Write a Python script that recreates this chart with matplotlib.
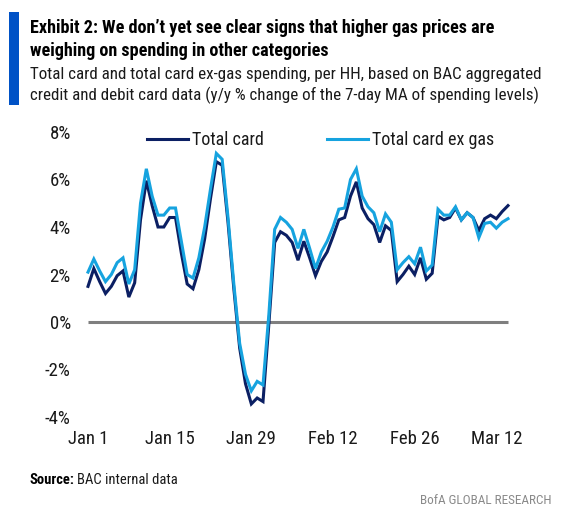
import matplotlib
matplotlib.use("Agg")
import matplotlib.pyplot as plt
from matplotlib import font_manager
from matplotlib.lines import Line2D
from matplotlib.patches import Rectangle
import pandas as pd

# ---------------- data ----------------
start_date = "2022-01-01"
total_card = [1.5, 2.25, 1.7, 1.2, 1.5, 1.95, 2.15, 1.05, 1.65, 4.3,
              5.95, 4.9, 4.0, 4.0, 4.4, 4.4, 2.9, 1.6, 1.4, 2.2,
              3.5, 5.2, 6.75, 6.6, 4.2, 1.4, -1.1, -2.6, -3.45, -3.2,
              -3.35, -0.1, 3.35, 3.8, 3.65, 3.35, 2.6, 3.4, 2.7, 1.95,
              2.55, 2.95, 3.6, 4.3, 4.4, 5.3, 5.9, 4.8, 4.35, 4.1,
              3.35, 4.05, 3.85, 1.7, 2.0, 2.35, 2.0, 2.7, 1.8, 2.05,
              4.45, 4.3, 4.4, 4.8, 4.3, 4.6, 4.4, 3.85, 4.35, 4.5,
              4.35, 4.65, 4.9]
total_ex_gas = [2.1, 2.65, 2.15, 1.7, 2.0, 2.5, 2.7, 1.6, 2.2, 5.0,
                6.45, 5.3, 4.5, 4.5, 4.8, 4.8, 3.4, 2.0, 1.85, 2.7,
                4.0, 5.6, 7.1, 6.85, 4.4, 1.6, -0.9, -2.2, -2.9, -2.5,
                -2.65, 0.3, 3.9, 4.4, 4.2, 3.9, 3.1, 3.9, 3.1, 2.25,
                2.95, 3.4, 4.0, 4.75, 4.8, 6.0, 6.45, 5.3, 4.85, 4.6,
                3.8, 4.55, 4.2, 2.2, 2.5, 2.75, 2.45, 3.15, 2.15, 2.4,
                4.75, 4.5, 4.5, 4.85, 4.3, 4.6, 4.4, 3.55, 4.15, 4.2,
                3.95, 4.2, 4.35]
series_names = ["Total card", "Total card ex gas"]
x_tick_labels = ["Jan 1", "Jan 15", "Jan 29", "Feb 12", "Feb 26", "Mar 12"]
y_ticks = [-4, -2, 0, 2, 4, 6, 8]
y_tick_labels = ["-4%", "-2%", "0%", "2%", "4%", "6%", "8%"]

title_lines = ["Exhibit 2: We don\u2019t yet see clear signs that higher gas prices are",
               "weighing on spending in other categories"]
subtitle_lines = ["Total card and total card ex-gas spending, per HH, based on BAC aggregated",
                  "credit and debit card data (y/y % change of the 7-day MA of spending levels)"]

dates = pd.date_range(start_date, periods=len(total_card), freq="D")
tick_dates = pd.date_range(start_date, periods=len(x_tick_labels), freq="14D")

# ---------------- fonts ----------------
available = {f.name for f in font_manager.fontManager.ttflist}
family = None
for cand in ["Liberation Sans Narrow", "Roboto Condensed", "Open Sans Condensed", "Lato"]:
    if cand in available:
        family = cand
        break
if family is None:
    family = "DejaVu Sans"
plt.rcParams["font.family"] = [family, "DejaVu Sans"]

NAVY = "#0b1f63"
LIGHT = "#16a3df"
BAR = "#0052c6"

W, H = 564, 518
fig = plt.figure(figsize=(W / 100, H / 100), dpi=100)
renderer = fig.canvas.get_renderer()


def fx(px):
    return px / W


def fy(py):
    return 1 - py / H


def fit(t, target_px):
    bb = t.get_window_extent(renderer)
    t.set_fontsize(t.get_fontsize() * target_px / bb.width)


# blue side bar
fig.patches.append(Rectangle((fx(9), fy(104.5)), fx(10), (104.5 - 12.3) / H,
                             transform=fig.transFigure, color=BAR, lw=0))

# title + subtitle
t1 = fig.text(fx(29.5), fy(33.3), title_lines[0], fontsize=14, fontweight="bold",
              color="#000000", va="baseline", ha="left")
fit(t1, 468)
t2 = fig.text(fx(29.5), fy(56.5), title_lines[1], fontsize=t1.get_fontsize(),
              fontweight="bold", color="#000000", va="baseline", ha="left")
s1 = fig.text(fx(29.5), fy(79.3), subtitle_lines[0], fontsize=13,
              color="#1a1a1a", va="baseline", ha="left")
fit(s1, 512)
s2 = fig.text(fx(29.5), fy(100.5), subtitle_lines[1], fontsize=s1.get_fontsize(),
              color="#1a1a1a", va="baseline", ha="left")

# ---------------- axes ----------------
px_per_day = (508 - 88) / (len(dates) - 1)
pad_days = 2
ax_left = 88 - pad_days * px_per_day
ax_width = (len(dates) - 1 + 2 * pad_days) * px_per_day
ax = fig.add_axes([fx(ax_left), fy(417), fx(ax_width), (417 - 132) / H])

ax.hlines(0, dates[0], dates[-1], color="#7f7f7f", lw=2.2, zorder=1)
ax.plot(dates, total_card, color=NAVY, lw=2.2, zorder=3, solid_joinstyle="miter")
ax.plot(dates, total_ex_gas, color=LIGHT, lw=2.2, zorder=4, solid_joinstyle="miter")

ax.set_xlim(dates[0] - pd.Timedelta(days=pad_days), dates[-1] + pd.Timedelta(days=pad_days))
ax.set_ylim(-4, 8)
ax.set_yticks(y_ticks)
ax.set_yticklabels(y_tick_labels)
ax.set_xticks(tick_dates)
ax.set_xticklabels(x_tick_labels)
ax.tick_params(axis="both", length=0, labelsize=13.5, colors="#1a1a1a")
ax.tick_params(axis="y", pad=4)
ax.tick_params(axis="x", pad=9)
for sp in ax.spines.values():
    sp.set_visible(False)
ax.set_facecolor("none")

handles = [Line2D([], [], color=NAVY, lw=2.2), Line2D([], [], color=LIGHT, lw=2.2)]
leg = ax.legend(handles, series_names, ncol=2, frameon=False, loc="center left",
                bbox_to_anchor=((147 - ax_left) / ax_width, (417 - 140) / 285),
                fontsize=13, handlelength=2.25, handletextpad=0.25,
                columnspacing=3.5, borderpad=0, borderaxespad=0)
for txt in leg.get_texts():
    txt.set_color("#1a1a1a")

# ---------------- footer ----------------
src_b = fig.text(fx(29.5), fy(484.3), "Source:", fontsize=10.5, fontweight="bold",
                 color="#000000", va="baseline", ha="left")
bb = src_b.get_window_extent(renderer)
src_n = fig.text((bb.x1 + 3) / W, fy(484.3), "BAC internal data", fontsize=10.5,
                 color="#1a1a1a", va="baseline", ha="left")
brand = fig.text(fx(552), fy(504), "BofA GLOBAL RESEARCH", fontsize=10.5,
                 color="#8a8a8a", va="baseline", ha="right")
fit(brand, 132)

fig.savefig("out.png", dpi=100)
